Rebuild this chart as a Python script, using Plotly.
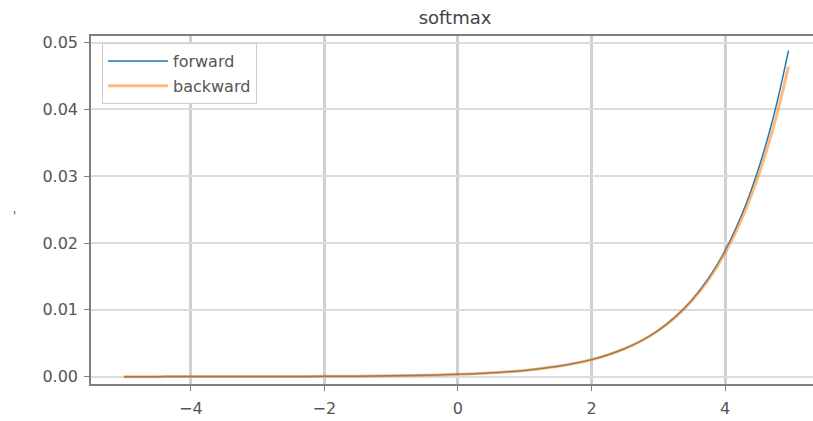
import plotly.graph_objects as go

x_vals = [-5.0, -4.5, -4.0, -3.5, -3.0, -2.5, -2.0, -1.5, -1.0, -0.5, 0.0, 0.25, 0.5, 0.75,
          1.0, 1.25, 1.5, 1.75, 2.0, 2.25, 2.5, 2.75, 3.0, 3.25, 3.5, 3.75, 4.0, 4.25, 4.5, 4.75, 4.95]
forward = [0.0000023, 0.0000038, 0.0000063, 0.0000104, 0.0000172, 0.0000284, 0.000047, 0.000077,
           0.000127, 0.000210, 0.000345, 0.000443, 0.000570, 0.000731, 0.000939, 0.00121, 0.00155,
           0.00199, 0.00255, 0.00328, 0.00421, 0.00540, 0.00694, 0.00891, 0.01144, 0.01469, 0.01886,
           0.02422, 0.0311, 0.0399, 0.0488]
backward = [0.0000023, 0.0000038, 0.0000063, 0.0000104, 0.0000172, 0.0000284, 0.000047, 0.000077,
            0.000127, 0.000210, 0.000345, 0.000443, 0.000570, 0.000730, 0.000938, 0.00121, 0.00155,
            0.00199, 0.00254, 0.00327, 0.00419, 0.00537, 0.00689, 0.00883, 0.01131, 0.01447, 0.01850,
            0.02363, 0.03013, 0.03831, 0.04642]
x_ticks = [-4, -2, 0, 2, 4]
y_ticks = [0.00, 0.01, 0.02, 0.03, 0.04, 0.05]

# figure slightly wider than the 813px window so the frame runs off the right edge (as in the reference)
W, H = 821, 421
L, T, B, R = 91, 36, 37, 0
PW = W - L - R
PH = H - T - B

fig = go.Figure()
fig.add_trace(go.Scatter(x=x_vals, y=forward, mode="lines", name="forward", legendgroup="f",
                         line=dict(color="#1f77b4", width=1.5, shape="spline")))
fig.add_trace(go.Scatter(x=x_vals, y=backward, mode="lines", name="backward", legendgroup="b",
                         line=dict(color="rgba(255,127,14,0.55)", width=3, shape="spline")))

axis_common = dict(showline=True, linecolor="#7f7f7f", linewidth=1.5, ticks="outside",
                   ticklen=5, tickcolor="#7f7f7f", zeroline=False, automargin=False,
                   tickfont=dict(family="DejaVu Sans", size=16, color="#555"))
fig.update_layout(
    width=W, height=H,
    margin=dict(l=L, r=R, t=T, b=B),
    paper_bgcolor="white", plot_bgcolor="white",
    title=dict(text="softmax", x=(455 - L) / PW, xref="paper", xanchor="center", y=1 - 18 / H,
               yanchor="middle", font=dict(family="DejaVu Sans", size=18, color="#444")),
    xaxis=dict(range=[-5.495, 5.437], tickvals=x_ticks, ticktext=["\u22124", "\u22122", "0", "2", "4"],
               showgrid=True, gridcolor="#d0d0d0", gridwidth=2.5, mirror=True,
               ticklabelstandoff=4, **axis_common),
    yaxis=dict(range=[-0.0011, 0.0510], tickvals=y_ticks,
               ticktext=["0.00", "0.01", "0.02", "0.03", "0.04", "0.05"],
               showgrid=True, gridcolor="#dcdcdc", gridwidth=2, ticklabelstandoff=3, **axis_common),
    legend=dict(x=(102 - L) / PW, y=(H - B - 43) / PH, xanchor="left", yanchor="top", bgcolor="white",
                bordercolor="#cccccc", borderwidth=1, itemwidth=60, tracegroupgap=1,
                font=dict(family="DejaVu Sans", size=16, color="#555")),
    showlegend=True,
)
fig.add_annotation(text="'", xref="paper", yref="paper", x=(14 - L) / PW, y=(H - B - 216) / PH,
                   xanchor="center", yanchor="middle", showarrow=False,
                   font=dict(size=14, color="#555"))
fig.write_html("out.html", config={"displayModeBar": False},
               post_script="document.body.style.margin='0';document.body.style.overflow='hidden';")
